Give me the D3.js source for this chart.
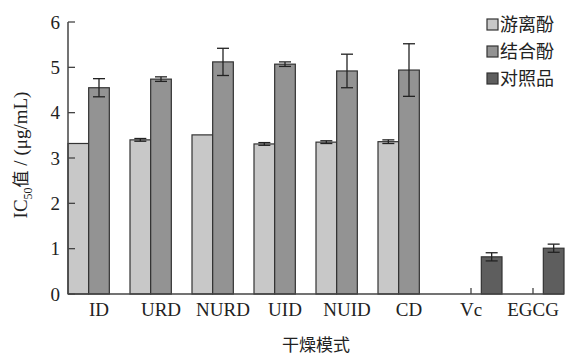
<!DOCTYPE html>
<html>
<head>
<meta charset="utf-8">
<script src="https://cdn.jsdelivr.net/npm/d3@7"></script>
<style>
  body { margin: 0; background: #fff; }
  svg { display: block; }
  text { fill: #222; }
</style>
</head>
<body>
<div id="chart"></div>
<script>
// categories and series values (IC50, µg/mL)
const categories = ['ID', 'URD', 'NURD', 'UID', 'NUID', 'CD', 'Vc', 'EGCG'];
const seriesNames = ['游离酚', '结合酚', '对照品'];
const freeVals  = [3.32, 3.40, 3.51, 3.31, 3.35, 3.36, null, null];
const freeErr   = [0, 0.03, 0, 0.03, 0.03, 0.04, null, null];
const boundVals = [4.55, 4.74, 5.12, 5.07, 4.92, 4.94, null, null];
const boundErr  = [0.20, 0.05, 0.30, 0.05, 0.37, 0.58, null, null];
const ctrlVals  = [null, null, null, null, null, null, 0.82, 1.01];
const ctrlErr   = [null, null, null, null, null, null, 0.09, 0.09];
const yTicks = [0, 1, 2, 3, 4, 5, 6];

const colors = ['#c8c8c8', '#939393', '#5e5e5e'];
const serif = '"Liberation Serif", "Times New Roman", serif';
const cjk = '"Noto Sans CJK SC", sans-serif';

const W = 569, H = 356;
const margin = {top: 22, right: 5, bottom: 62, left: 68};

const svg = d3.select('#chart').append('svg')
    .attr('width', W)
    .attr('height', H);

const x = d3.scaleBand()
    .domain(categories)
    .range([margin.left, W - margin.right])
    .paddingInner(0)
    .paddingOuter(0);

const xs = d3.scaleBand()
    .domain([0, 1, 2])
    .range([0, x.bandwidth()]);

const y = d3.scaleLinear()
    .domain([0, 6])
    .range([H - margin.bottom, margin.top]);

// x axis ticks (inward, drawn under the bars)
const axisColor = '#444';
svg.append('g')
    .selectAll('line')
    .data(categories)
    .enter().append('line')
    .attr('x1', d => x(d) + x.bandwidth() / 2)
    .attr('x2', d => x(d) + x.bandwidth() / 2)
    .attr('y1', y(0))
    .attr('y2', y(0) - 6)
    .attr('stroke', axisColor)
    .attr('stroke-width', 1.3);

// bars
const series = [
    {vals: freeVals, errs: freeErr},
    {vals: boundVals, errs: boundErr},
    {vals: ctrlVals, errs: ctrlErr}
];

const bars = [];
series.forEach((s, si) => {
    categories.forEach((c, ci) => {
        if (s.vals[ci] != null) {
            bars.push({cat: c, si: si, v: s.vals[ci], e: s.errs[ci]});
        }
    });
});

svg.append('g')
    .selectAll('rect')
    .data(bars)
    .enter().append('rect')
    .attr('x', d => x(d.cat) + xs(d.si))
    .attr('y', d => y(d.v))
    .attr('width', xs.bandwidth())
    .attr('height', d => y(0) - y(d.v))
    .attr('fill', d => colors[d.si])
    .attr('stroke', '#333')
    .attr('stroke-width', 1.2);

// error bars
const errG = svg.append('g')
    .attr('stroke', '#222')
    .attr('stroke-width', 1.3);

bars.filter(d => d.e > 0).forEach(d => {
    const cx = x(d.cat) + xs(d.si) + xs.bandwidth() / 2;
    const capW = 6;
    errG.append('line')
        .attr('x1', cx).attr('x2', cx)
        .attr('y1', y(d.v + d.e)).attr('y2', y(d.v - d.e));
    [d.v + d.e, d.v - d.e].forEach(v => {
        errG.append('line')
            .attr('x1', cx - capW).attr('x2', cx + capW)
            .attr('y1', y(v)).attr('y2', y(v));
    });
});

// axis lines
svg.append('line')
    .attr('x1', margin.left).attr('x2', margin.left)
    .attr('y1', y(6)).attr('y2', y(0))
    .attr('stroke', axisColor).attr('stroke-width', 1.5);
svg.append('line')
    .attr('x1', margin.left).attr('x2', W - margin.right)
    .attr('y1', y(0)).attr('y2', y(0))
    .attr('stroke', axisColor).attr('stroke-width', 1.5);

// y ticks (inward) and labels
const yg = svg.append('g');
yg.selectAll('line')
    .data(yTicks)
    .enter().append('line')
    .attr('x1', margin.left).attr('x2', margin.left + 7)
    .attr('y1', d => y(d)).attr('y2', d => y(d))
    .attr('stroke', axisColor).attr('stroke-width', 1.3);
yg.selectAll('text')
    .data(yTicks)
    .enter().append('text')
    .attr('x', margin.left - 8)
    .attr('y', d => y(d))
    .attr('dy', '0.35em')
    .attr('text-anchor', 'end')
    .style('font-family', serif)
    .style('font-size', '19px')
    .text(d => d);

// x labels
svg.append('g')
    .selectAll('text')
    .data(categories)
    .enter().append('text')
    .attr('x', d => x(d) + x.bandwidth() / 2)
    .attr('y', y(0) + 22)
    .attr('text-anchor', 'middle')
    .style('font-family', serif)
    .style('font-size', '19px')
    .text(d => d);

// axis titles
svg.append('text')
    .attr('x', (margin.left + W - margin.right) / 2)
    .attr('y', 351)
    .attr('text-anchor', 'middle')
    .style('font-family', cjk)
    .style('font-size', '17px')
    .text('干燥模式');

const yt = svg.append('text')
    .attr('transform', `translate(27,${155}) rotate(-90)`)
    .attr('text-anchor', 'middle')
    .style('font-family', serif)
    .style('font-size', '19px');
yt.append('tspan').text('IC');
yt.append('tspan').attr('dy', 5).style('font-size', '12px').text('50');
yt.append('tspan').attr('dy', -5).style('font-family', cjk).style('font-size', '17px').text('值');
yt.append('tspan').text(' / (μg/mL)');

// legend
const lg = svg.append('g')
    .attr('transform', 'translate(487,25)');
seriesNames.forEach((n, i) => {
    const row = lg.append('g').attr('transform', `translate(0,${i * 27})`);
    row.append('rect')
        .attr('x', 0).attr('y', -6)
        .attr('width', 11).attr('height', 11)
        .attr('fill', colors[i])
        .attr('stroke', '#333')
        .attr('stroke-width', 1.2);
    row.append('text')
        .attr('x', 13)
        .attr('y', 0)
        .attr('dy', '0.36em')
        .style('font-family', cjk)
        .style('font-size', '18px')
        .text(n);
});
</script>
</body>
</html>
